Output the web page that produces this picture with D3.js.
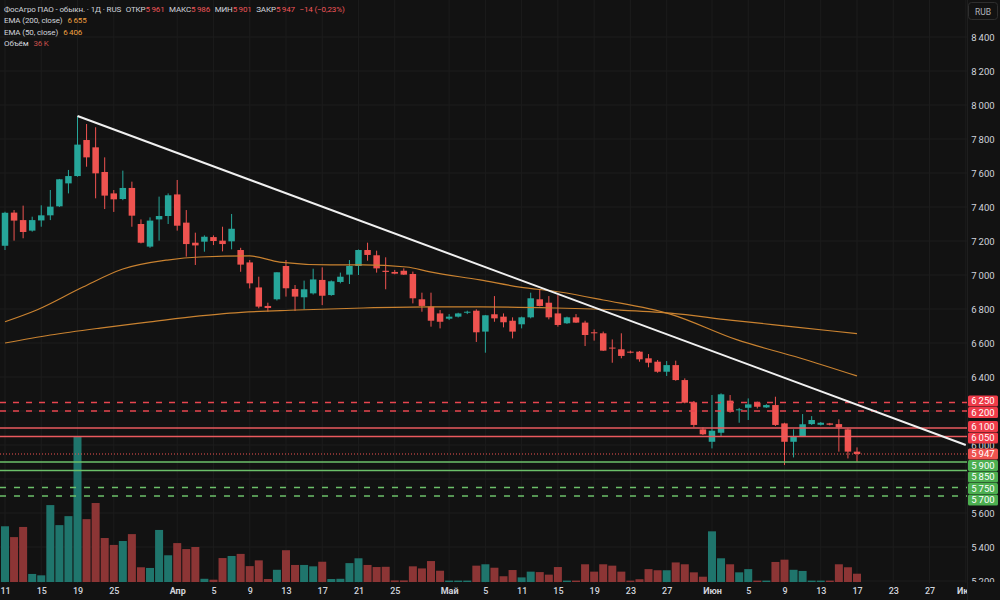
<!DOCTYPE html>
<html>
<head>
<meta charset="utf-8">
<script src="https://cdn.jsdelivr.net/npm/d3@7"></script>
<style>
  html, body { margin: 0; padding: 0; background: #121212; }
  svg { display: block; font-family: Roboto, "Liberation Sans", sans-serif; }
</style>
</head>
<body>
<svg id="chart"></svg>
<script>
// daily bars, index 0 = 11 March
const opens  = [7172,7367,7323,7261,7321,7351,7404,7539,7582,7794,7751,7606,7480,7447,7512,7300,7167,7327,7347,7474,
                7308,7190,7196,7223,7202,7198,7147,7074,6927,6818,6857,7053,6918,6869,6892,6971,6882,6959,7002,7053,
                7147,7116,7025,7018,7025,7006,6857,6814,6774,6743,6755,6778,6790,6667,6769,6755,6731,6710,6751,6857,
                6837,6774,6716,6751,6720,6663,6657,6573,6563,6549,6549,6510,6490,6431,6470,6382,6251,6092,6019,6072,
                6261,6206,6219,6249,6221,6235,6127,6019,6053,6123,6119,6127,6123,6092,5961];
const highs  = [7372,7382,7408,7343,7410,7500,7565,7618,7935,7888,7869,7692,7500,7614,7549,7327,7339,7461,7480,7559,
                7382,7249,7233,7233,7284,7359,7160,7088,6990,6837,7016,7088,6941,6967,7037,7045,6968,7014,7088,7150,
                7190,7143,7104,7030,7039,7020,6896,6896,6794,6770,6778,6790,6798,6765,6876,6774,6751,6755,6896,6916,
                6876,6882,6755,6770,6731,6680,6667,6621,6657,6555,6553,6535,6500,6494,6496,6392,6259,6104,6294,6304,
                6294,6218,6274,6255,6240,6284,6131,6092,6182,6170,6135,6130,6151,6098,5986];
const lows   = [7147,7202,7216,7255,7284,7323,7400,7480,7578,7637,7451,7388,7371,7440,7284,7186,7160,7202,7300,7261,
                7108,7059,7137,7176,7139,7151,7019,6921,6804,6784,6850,6873,6788,6798,6885,6823,6878,6951,6947,7000,
                7084,7014,6916,7004,7000,6833,6784,6696,6686,6735,6750,6770,6606,6543,6725,6692,6627,6686,6745,6815,
                6739,6696,6712,6718,6582,6614,6553,6484,6510,6539,6490,6457,6425,6406,6378,6245,6104,6059,5980,6049,
                6190,6131,6147,6215,6218,6112,5882,5927,6049,6118,6115,6115,5961,5921,5901];
const closes = [7366,7320,7253,7323,7351,7402,7563,7582,7767,7692,7598,7467,7445,7512,7349,7190,7320,7347,7469,7290,
                7182,7174,7225,7200,7182,7272,7061,6951,6814,6806,7016,6922,6873,6916,6974,6878,6963,6990,7053,7147,
                7118,7039,7018,7008,7002,6863,6818,6731,6725,6755,6774,6784,6663,6763,6745,6722,6667,6751,6863,6818,
                6751,6706,6751,6720,6647,6657,6555,6569,6524,6543,6504,6484,6431,6470,6382,6249,6118,6063,6084,6298,
                6196,6210,6239,6225,6235,6118,6019,6049,6122,6147,6131,6119,6104,5961,5947];
// volume, thousands of shares
const volumes = [242,195,239,35,29,334,247,286,634,273,343,191,161,178,208,64,61,226,116,169,
                 143,152,14,10,104,113,122,69,94,13,53,138,74,74,68,88,13,14,82,103,
                 74,65,66,7,7,68,59,91,49,6,6,6,71,77,62,25,52,20,45,43,
                 32,65,6,6,77,45,77,71,45,6,12,56,51,51,85,77,42,23,220,103,
                 77,42,56,6,6,87,97,53,48,6,6,6,77,64,36];

// moving averages (bar index, value)
const ema50Idx  = [0, 3.5, 8.6, 13, 17.9, 21.5, 27, 30.3, 35.9, 39.5, 44.3, 46.9, 52.4, 56.8, 61.2, 66, 73.4, 80.8, 87.7, 94];
const ema50Val  = [6725, 6794, 6929, 7035, 7088, 7106, 7112, 7076, 7059, 7059, 7047, 7018, 6971, 6929, 6900, 6853, 6770, 6618, 6512, 6406];
const ema200Idx = [0, 5, 10.5, 16, 21.5, 24.8, 32.2, 39.5, 46.9, 52.4, 60.5, 67.8, 73.4, 80, 87, 94];
const ema200Val = [6600, 6647, 6688, 6724, 6759, 6776, 6794, 6806, 6812, 6812, 6806, 6794, 6776, 6735, 6695, 6655];

// trend line anchors (bar index, price)
const trendIdx = [8, 106];
const trendVal = [7935, 6000];

// horizontal levels
const resistDashed = [6250, 6200];
const resistSolid  = [6100, 6050];
const supportSolid = [5900, 5850];
const supportDashed = [5750, 5700];

// time axis
const tickIndex = [0, 4, 8, 12, 19, 23, 27, 31, 35, 39, 43, 49, 53, 57, 61, 65, 69, 73, 78, 82, 86, 90, 94, 98, 102, 106];
const tickText  = ['11','15','19','25','Апр','5','9','13','17','21','25','Май','5','11','15','19','23','27','Июн','5','9','13','17','23','27','Июл'];
const monthTicks = ['Апр', 'Май', 'Июн', 'Июл'];

const priceTicks = d3.range(5200, 8401, 200);

const width = 1000, height = 600;
const plotW = 967, plotH = 583;

const UP = '#26a69a', DOWN = '#ef5350';
const VOL_UP = '#1f756c', VOL_DOWN = '#8c3535';
const TEXT = '#d1d4dc';

const nf = d3.formatLocale({decimal: ',', thousands: '\u2009', grouping: [3], currency: ['', '']}).format(',');

const svg = d3.select('#chart').attr('width', width).attr('height', height);
svg.append('rect').attr('width', width).attr('height', height).attr('fill', '#121212');

const defs = svg.append('defs');
defs.append('clipPath').attr('id', 'plot').append('rect').attr('width', plotW).attr('height', plotH);
defs.append('clipPath').attr('id', 'taxis').append('rect').attr('width', plotW).attr('height', height);
defs.append('clipPath').attr('id', 'paxis').append('rect').attr('x', plotW).attr('width', width - plotW).attr('height', plotH - 1);

const x = d3.scaleLinear().domain([0, 94]).range([5, 857]);
const y = d3.scaleLinear().domain([5200, 8400]).range([581, 37]);
const vy = d3.scaleLinear().domain([0, d3.max(volumes)]).range([582, 436]);

const bars = d3.range(opens.length).map(i => ({
    i, o: opens[i], h: highs[i], l: lows[i], c: closes[i], v: volumes[i], up: closes[i] >= opens[i]
}));

const plot = svg.append('g').attr('clip-path', 'url(#plot)');

// grid
plot.append('g').selectAll('line').data(priceTicks).enter().append('line')
    .attr('x1', 0).attr('x2', plotW)
    .attr('y1', d => y(d)).attr('y2', d => y(d))
    .attr('stroke', '#1c1c1c');
plot.append('g').selectAll('line').data(tickIndex).enter().append('line')
    .attr('x1', d => x(d)).attr('x2', d => x(d))
    .attr('y1', 0).attr('y2', plotH)
    .attr('stroke', '#1c1c1c');

// volume
const vw = 8;
plot.append('g').selectAll('rect').data(bars).enter().append('rect')
    .attr('x', d => x(d.i) - vw / 2)
    .attr('width', vw)
    .attr('y', d => vy(d.v))
    .attr('height', d => vy(0) - vy(d.v))
    .attr('fill', d => d.up ? VOL_UP : VOL_DOWN);

// candles
const cw = 6.5;
const candles = plot.append('g').selectAll('g').data(bars).enter().append('g');
candles.append('line')
    .attr('x1', d => x(d.i)).attr('x2', d => x(d.i))
    .attr('y1', d => y(d.h)).attr('y2', d => y(d.l))
    .attr('stroke', d => d.up ? UP : DOWN).attr('stroke-width', 1);
candles.append('rect')
    .attr('x', d => x(d.i) - cw / 2)
    .attr('width', cw)
    .attr('y', d => y(Math.max(d.o, d.c)))
    .attr('height', d => Math.max(1, Math.abs(y(d.o) - y(d.c))))
    .attr('fill', d => d.up ? UP : DOWN);

// EMA lines
const emaLine = d3.line().x(d => x(d[0])).y(d => y(d[1])).curve(d3.curveMonotoneX);
plot.append('path').datum(d3.zip(ema200Idx, ema200Val))
    .attr('d', emaLine).attr('fill', 'none').attr('stroke', '#c98230').attr('stroke-width', 1.2);
plot.append('path').datum(d3.zip(ema50Idx, ema50Val))
    .attr('d', emaLine).attr('fill', 'none').attr('stroke', '#c98230').attr('stroke-width', 1.2);

// levels
function level(values, color, dash) {
    plot.append('g').selectAll('line').data(values).enter().append('line')
        .attr('x1', 0).attr('x2', plotW)
        .attr('y1', d => y(d)).attr('y2', d => y(d))
        .attr('stroke', color).attr('stroke-width', 1.5)
        .attr('stroke-dasharray', dash);
}
level(resistDashed, '#e8464f', '6 7');
level(resistSolid, '#ea5a5e', null);
level(supportSolid, '#6cc06a', null);
level(supportDashed, '#6cc06a', '6 8');

const last = bars[bars.length - 1];
const prevClose = closes[closes.length - 2];
plot.append('line')
    .attr('x1', 0).attr('x2', plotW)
    .attr('y1', y(last.c)).attr('y2', y(last.c))
    .attr('stroke', DOWN).attr('stroke-width', 1).attr('stroke-dasharray', '1 2');

// trend line
plot.append('line')
    .attr('x1', x(trendIdx[0])).attr('y1', y(trendVal[0]))
    .attr('x2', x(trendIdx[1])).attr('y2', y(trendVal[1]))
    .attr('stroke', '#f0f0f0').attr('stroke-width', 2);

// level labels on the price axis: spread them so the boxes don't collide
const labelItems = [];
resistDashed.concat(resistSolid).forEach(p => labelItems.push({p, fill: '#ee3b48'}));
supportSolid.concat(supportDashed).forEach(p => labelItems.push({p, fill: '#4caf50'}));
labelItems.push({p: last.c, fill: '#ef5350', fixed: true});

const boxH = 11;
labelItems.forEach(d => { d.ty = y(d.p); d.y = d.ty; });
labelItems.sort((a, b) => a.ty - b.ty);
for (let k = 0; k < 200; k++) {
    for (let j = 1; j < labelItems.length; j++) {
        const a = labelItems[j - 1], b = labelItems[j];
        const ov = boxH + 0.5 - (b.y - a.y);
        if (ov > 0) {
            if (a.fixed) b.y += ov;
            else if (b.fixed) a.y -= ov;
            else { a.y -= ov / 2; b.y += ov / 2; }
        }
    }
}

// price axis (tick labels hidden where a level box sits on them)
svg.append('line').attr('x1', plotW + 0.5).attr('x2', plotW + 0.5).attr('y1', 0).attr('y2', height).attr('stroke', '#1e1e1e');
const visibleTicks = priceTicks.filter(p => !labelItems.some(d => Math.abs(d.y - y(p)) < 5));
const paxis = svg.append('g').attr('clip-path', 'url(#paxis)')
    .append('g').attr('transform', `translate(${plotW},0)`)
    .call(d3.axisRight(y).tickValues(visibleTicks).tickFormat(nf).tickSize(0).tickPadding(16));
paxis.select('.domain').remove();
paxis.selectAll('text').attr('fill', TEXT).attr('font-size', 9.5).attr('text-anchor', 'middle').attr('font-family', 'Roboto, sans-serif');

// time axis
const taxis = svg.append('g').attr('clip-path', 'url(#taxis)')
    .append('g').attr('transform', `translate(0,${plotH})`)
    .call(d3.axisBottom(x).tickValues(tickIndex).tickFormat((d, i) => tickText[i]).tickSize(0).tickPadding(5));
taxis.select('.domain').remove();
taxis.selectAll('text').attr('fill', TEXT).attr('font-size', 9).attr('font-family', 'Roboto, sans-serif')
    .attr('font-weight', (d, i) => monthTicks.includes(tickText[i]) ? 700 : 500);

const lbl = svg.append('g').selectAll('g').data(labelItems).enter().append('g')
    .attr('transform', d => `translate(${plotW + 1},${d.y})`);
lbl.append('rect').attr('x', 0).attr('y', -boxH / 2).attr('width', 30).attr('height', boxH)
    .attr('rx', 1.5).attr('fill', d => d.fill);
lbl.append('text').attr('x', 15).attr('dy', '0.35em').attr('text-anchor', 'middle')
    .attr('fill', '#ffffff').attr('font-size', 9.5).text(d => nf(d.p));

// currency button
svg.append('rect').attr('x', 968.5).attr('y', 2.5).attr('width', 29).attr('height', 17).attr('rx', 3)
    .attr('fill', '#121212').attr('stroke', '#2e2e2e');
svg.append('text').attr('x', 983).attr('y', 14.5).attr('text-anchor', 'middle')
    .attr('fill', '#b2b5be').attr('font-size', 8.5).text('RUB');

// legend
const legend = svg.append('g').attr('font-size', 8).attr('letter-spacing', -0.12).attr('fill', TEXT);
const row1 = legend.append('text').attr('x', 4).attr('y', 11.5);
row1.append('tspan').text('ФосАгро ПАО - обыкн. · 1Д · RUS');
const ohlc = [['ОТКР', last.o], ['МАКС', last.h], ['МИН', last.l], ['ЗАКР', last.c]];
ohlc.forEach(([k, v]) => {
    row1.append('tspan').attr('dx', 4.5).text(k);
    row1.append('tspan').attr('fill', '#f0565a').text(nf(v));
});
const chg = last.c - prevClose;
row1.append('tspan').attr('dx', 4.5).attr('fill', '#f0565a')
    .text(`${chg < 0 ? '−' : '+'}${Math.abs(chg)} (${chg < 0 ? '−' : '+'}${(Math.abs(chg) / prevClose * 100).toFixed(2).replace('.', ',')}%)`);

const row2 = legend.append('text').attr('x', 4).attr('y', 23);
row2.append('tspan').text('EMA (200, close)');
row2.append('tspan').attr('dx', 5).attr('fill', '#f0a040').text(nf(ema200Val[ema200Val.length - 1]));
const row3 = legend.append('text').attr('x', 4).attr('y', 34.5);
row3.append('tspan').text('EMA (50, close)');
row3.append('tspan').attr('dx', 5).attr('fill', '#f0a040').text(nf(ema50Val[ema50Val.length - 1]));
const row4 = legend.append('text').attr('x', 4).attr('y', 46);
row4.append('tspan').text('Объём');
row4.append('tspan').attr('dx', 5).attr('fill', '#c8504c').text(`${last.v}\u2009K`);
</script>
</body>
</html>
